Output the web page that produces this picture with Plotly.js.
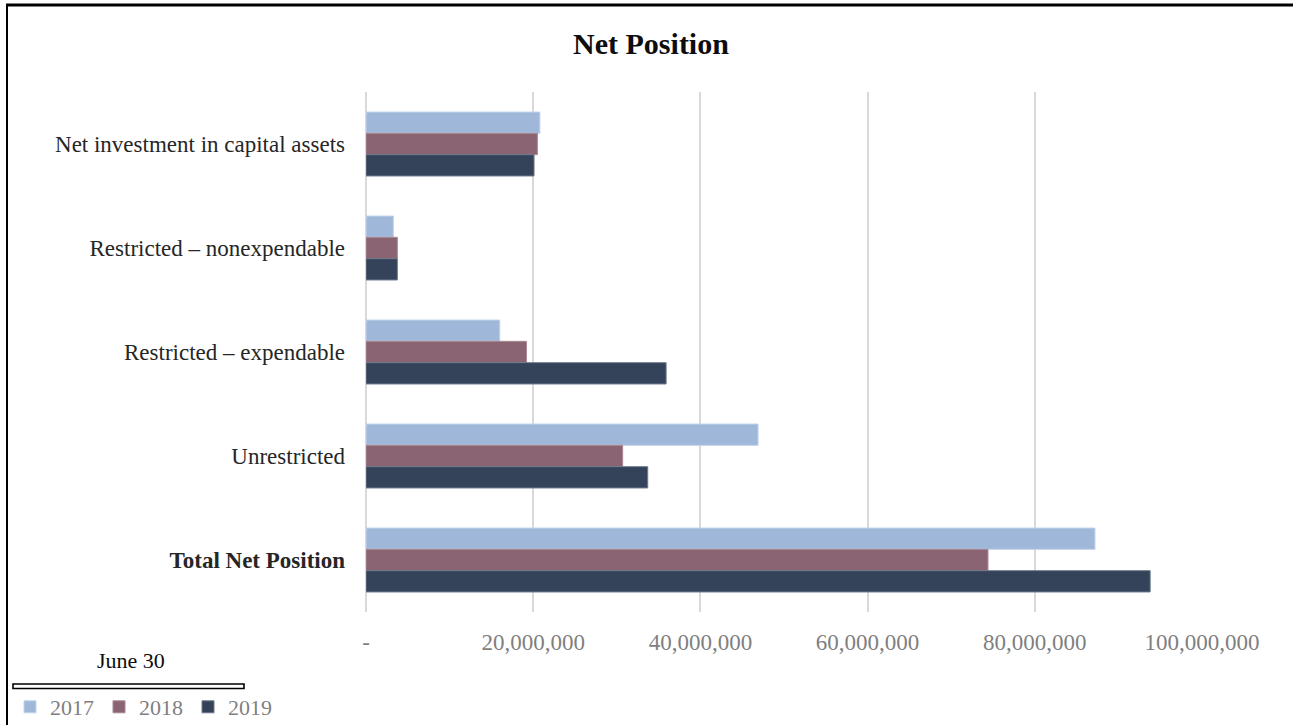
<!DOCTYPE html>
<html>
<head>
<meta charset="utf-8">
<script src="https://cdn.plot.ly/plotly-3.0.1.min.js"></script>
<style>html,body{margin:0;padding:0;background:#fff;}#chart{width:1293px;height:725px;}</style>
</head>
<body>
<div id="chart"></div>
<script>
var categories = ["Net investment in capital assets", "Restricted \u2013 nonexpendable", "Restricted \u2013 expendable", "Unrestricted", "Total Net Position"];
var categoryLabels = ["Net investment in capital assets", "Restricted \u2013 nonexpendable", "Restricted \u2013 expendable", "Unrestricted", "<b>Total Net Position</b>"];
var years = ["2017", "2018", "2019"];
var values2017 = [20800000, 3270000, 16000000, 46900000, 87200000];
var values2018 = [20500000, 3750000, 19200000, 30700000, 74400000];
var values2019 = [20100000, 3750000, 35900000, 33700000, 93800000];
var tickValues = [0, 20000000, 40000000, 60000000, 80000000, 100000000];
var tickLabels = ["-", "20,000,000", "40,000,000", "60,000,000", "80,000,000", "100,000,000"];

var colors = ["#9fb8d9", "#8a6472", "#344359"];
var outline = ["#c3d3ea", "#a88893", "#6e7a8c"];
var series = [values2017, values2018, values2019];
var FONT = "Liberation Serif, Times New Roman, serif";

var traces = series.map(function (vals, i) {
  return {
    type: "bar",
    orientation: "h",
    name: years[i],
    x: vals,
    y: categories,
    marker: {color: colors[i], line: {color: outline[i], width: 1}},
    hoverinfo: "x+name"
  };
});

// pixel helpers for decorations
var L = 366, R = 91, T = 92, B = 113, W = 1293, H = 725;
var pw = W - L - R, ph = H - T - B;
function px(x) { return (x - L) / pw; }
function py(y) { return (H - B - y) / ph; }

var layout = {
  width: W, height: H,
  margin: {l: L, r: R, t: T, b: B, autoexpand: false},
  paper_bgcolor: "#ffffff",
  plot_bgcolor: "#ffffff",
  font: {family: FONT, color: "#262626"},
  barmode: "group",
  bargap: 0.385,
  bargroupgap: 0,
  title: {text: "<b>Net Position</b>", font: {family: FONT, size: 30, color: "#0d0d0d"}, xref: "container", x: 651 / W, xanchor: "center", yref: "container", y: 1 - 43 / H, yanchor: "middle"},
  xaxis: {
    range: [0, 100000000],
    tickvals: tickValues,
    ticktext: tickLabels,
    showgrid: true,
    gridcolor: "#d9d9d9",
    gridwidth: 2,
    zeroline: true,
    zerolinecolor: "#d9d9d9",
    zerolinewidth: 2,
    showline: false,
    ticks: "",
    tickfont: {family: FONT, size: 23, color: "#7f7f7f"},
    ticklabelstandoff: 14,
    fixedrange: true
  },
  yaxis: {
    type: "category",
    categoryorder: "array",
    categoryarray: categories,
    tickvals: categories,
    ticktext: categoryLabels,
    autorange: "reversed",
    showgrid: false,
    zeroline: false,
    showline: false,
    ticks: "",
    ticklabelstandoff: 20,
    tickfont: {family: FONT, size: 23, color: "#262626"},
    fixedrange: true
  },
  showlegend: true,
  legend: {
    orientation: "h",
    xref: "container", x: 10 / W, xanchor: "left",
    yref: "container", y: 1 - 686 / H, yanchor: "top",
    font: {family: FONT, size: 22, color: "#7f7f7f"},
    traceorder: "normal",
    itemwidth: 30,
    bgcolor: "rgba(0,0,0,0)"
  },
  annotations: [
    {text: "June 30", xref: "paper", yref: "paper", x: px(131), y: py(660), xanchor: "center", yanchor: "middle", showarrow: false, font: {family: FONT, size: 22, color: "#0d0d0d"}}
  ],
  shapes: [
    {type: "line", xref: "paper", yref: "paper", x0: px(6), x1: px(1293), y0: py(5), y1: py(5), line: {color: "#000", width: 3}},
    {type: "line", xref: "paper", yref: "paper", x0: px(7), x1: px(7), y0: py(4), y1: py(725), line: {color: "#000", width: 2}},
    {type: "rect", xref: "paper", yref: "paper", x0: px(13), x1: px(244), y0: py(684), y1: py(688.5), line: {color: "#000", width: 1.6}, fillcolor: "#fff"}
  ]
};

Plotly.newPlot("chart", traces, layout, {displayModeBar: false, staticPlot: true});
</script>
</body>
</html>
